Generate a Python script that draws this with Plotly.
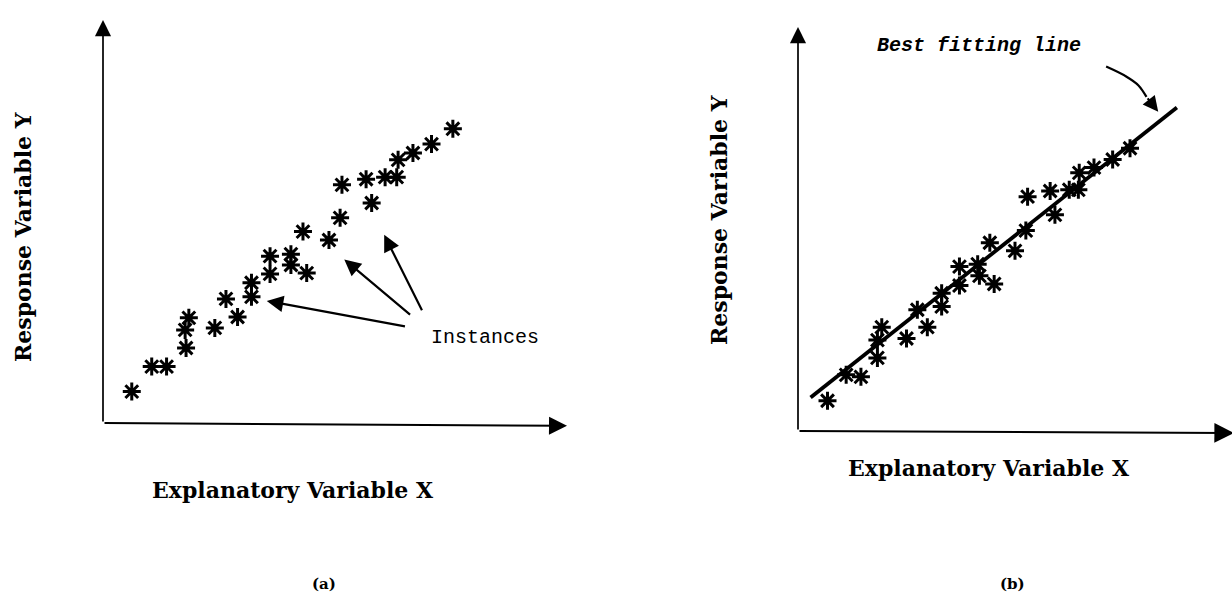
import plotly.graph_objects as go

# Panel (a): observed instances (explanatory X, response Y)
inst_a_x = [0.62, 1.05, 1.37, 1.79, 1.77, 1.85, 2.41, 2.90, 2.65, 3.20, 3.20, 3.60, 3.60, 4.05,
            4.05, 4.39, 4.31, 4.87, 5.11, 5.15, 5.67, 5.79, 6.08, 6.33, 6.36, 6.68, 7.08, 7.54]
inst_a_y = [0.78, 1.40, 1.40, 1.86, 2.31, 2.61, 2.36, 2.63, 3.08, 3.13, 3.48, 3.70, 4.14, 4.19,
            3.92, 3.72, 4.75, 4.54, 5.09, 5.91, 6.05, 5.46, 6.10, 6.10, 6.53, 6.70, 6.92, 7.30]

# Panel (b): the same kind of instances with a fitted line
inst_b_x = [0.68, 1.11, 1.45, 1.83, 1.83, 1.93, 2.50, 2.98, 2.75, 3.31, 3.31, 3.72, 3.72, 4.14,
            4.18, 4.52, 4.42, 5.00, 5.25, 5.29, 5.81, 5.92, 6.25, 6.46, 6.48, 6.82, 7.25, 7.65]
inst_b_y = [0.75, 1.39, 1.34, 1.81, 2.25, 2.57, 2.29, 2.57, 3.00, 3.08, 3.41, 3.60, 4.07, 4.13,
            3.84, 3.64, 4.66, 4.46, 4.96, 5.80, 5.94, 5.35, 5.97, 5.97, 6.39, 6.52, 6.72, 7.00]

# Best fitting line end points
fit_x = [0.29, 8.73]
fit_y = [0.83, 8.01]

# Pointers from the "Instances" label: (tail x, tail y, head x, head y)
inst_arrows = [
    (6.54, 2.39, 3.53, 3.03),
    (6.65, 2.66, 5.20, 4.06),
    (6.89, 2.76, 6.06, 4.67),
]

# Curved pointer from "Best fitting line" label
curve_x = [7.10, 7.57, 7.84, 8.03]
curve_y = [9.02, 8.77, 8.56, 8.27]
curve_tip = (8.30, 7.90)

W, H = 1232, 596


def px(x):
    return x / W


def py(y):
    return 1 - y / H


star = dict(symbol="asterisk", size=15, color="black",
            line=dict(color="black", width=3))

fig = go.Figure()

fig.add_trace(go.Scatter(x=inst_a_x, y=inst_a_y, mode="markers", marker=star,
                         xaxis="x", yaxis="y", showlegend=False, hoverinfo="skip"))
fig.add_trace(go.Scatter(x=fit_x, y=fit_y, mode="lines",
                         line=dict(color="black", width=3.8),
                         xaxis="x2", yaxis="y2", showlegend=False, hoverinfo="skip"))
fig.add_trace(go.Scatter(x=inst_b_x, y=inst_b_y, mode="markers", marker=star,
                         xaxis="x2", yaxis="y2", showlegend=False, hoverinfo="skip"))
fig.add_trace(go.Scatter(x=curve_x, y=curve_y, mode="lines",
                         line=dict(color="black", width=2.2, shape="spline"),
                         xaxis="x2", yaxis="y2", showlegend=False, hoverinfo="skip"))

annotations = []


def arrow(xref, yref, tail, head, width=1.6, size=1.6):
    annotations.append(dict(
        xref=xref, yref=yref, axref=xref, ayref=yref,
        x=head[0], y=head[1], ax=tail[0], ay=tail[1],
        text="", showarrow=True, arrowhead=2, arrowsize=size,
        arrowwidth=width, arrowcolor="black", standoff=0, startstandoff=0,
    ))


# Axis arrows, panel (a)
arrow("x", "y", (0, 0), (0, 10), width=1.7, size=1.9)
arrow("x", "y", (0, 0), (10, -0.07), width=2.0, size=1.8)
# Axis arrows, panel (b)
arrow("x2", "y2", (0, 0), (0, 10), width=1.7, size=1.9)
arrow("x2", "y2", (0, 0), (10.05, -0.05), width=2.2, size=1.8)

# Pointers to the instances
for tx, ty, hx, hy in inst_arrows:
    arrow("x", "y", (tx, ty), (hx, hy), width=2.2, size=1.5)

# Pointer to the fitted line
arrow("x2", "y2", (curve_x[-1], curve_y[-1]), curve_tip, width=2.2, size=1.4)

serif_bold = dict(family="DejaVu Serif", size=22, color="black", weight="bold")
tag_font = dict(family="DejaVu Serif", size=15, color="black", weight="bold")

texts = [
    ("Explanatory Variable X", 293, 490, 0, serif_bold),
    ("Explanatory Variable X", 989, 468, 0, serif_bold),
    ("Response Variable Y", 23, 237, -90, serif_bold),
    ("Response Variable Y", 719, 220, -90, serif_bold),
    ("(a)", 324, 584, 0, tag_font),
    ("(b)", 1012, 584, 0, tag_font),
]
for t, x, y, ang, f in texts:
    annotations.append(dict(xref="paper", yref="paper", x=px(x), y=py(y),
                            text=t, showarrow=False, textangle=ang, font=f,
                            xanchor="center", yanchor="middle"))

annotations.append(dict(xref="x", yref="y", x=7.03, y=2.13, text="Instances",
                        showarrow=False, xanchor="left", yanchor="middle",
                        font=dict(family="Liberation Mono", size=20, color="black")))
annotations.append(dict(xref="x2", yref="y2", x=1.77, y=9.55, text="Best fitting line",
                        showarrow=False, xanchor="left", yanchor="middle",
                        font=dict(family="Liberation Mono", size=20, color="black",
                                  weight="bold", style="italic")))

hidden = dict(visible=False, range=[0, 10], fixedrange=True)

fig.update_layout(
    width=W, height=H,
    margin=dict(l=0, r=0, t=0, b=0),
    paper_bgcolor="white", plot_bgcolor="white",
    xaxis=dict(hidden, domain=[px(103), px(567)], anchor="y"),
    yaxis=dict(hidden, domain=[py(423), py(20)], anchor="x"),
    xaxis2=dict(hidden, domain=[px(798), 1.0], anchor="y2"),
    yaxis2=dict(hidden, domain=[py(431), py(27)], anchor="x2"),
    annotations=annotations,
)

fig.write_html("out.html")
